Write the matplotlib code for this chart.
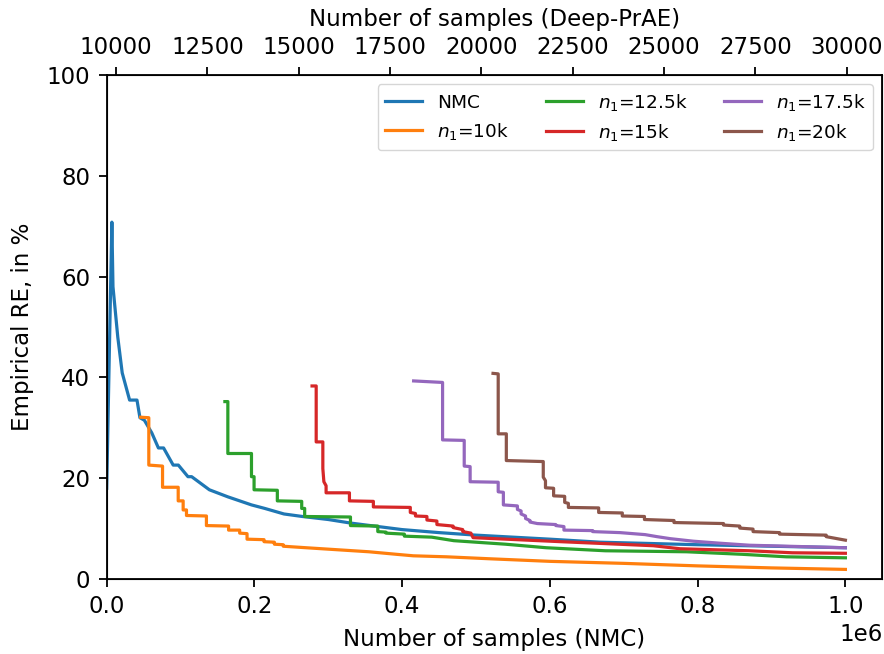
import matplotlib
matplotlib.use("Agg")
import matplotlib.pyplot as plt
import numpy as np

# ---- data (x in millions of NMC samples, y in %) ----
nmc_x = [0.0, 0.007, 0.0085, 0.015, 0.021, 0.031, 0.041, 0.045, 0.051, 0.061, 0.070,
         0.077, 0.090, 0.097, 0.110, 0.115, 0.139, 0.164, 0.196, 0.214, 0.240,
         0.265, 0.30, 0.33, 0.40, 0.45, 0.50, 0.60, 0.668, 0.80, 0.90, 1.0]
nmc_y = [18.0, 70.8, 58.0, 48.0, 40.9, 35.5, 35.5, 32.0, 31.5, 29.0, 26.0,
         26.0, 22.6, 22.6, 20.3, 20.3, 17.7, 16.3, 14.7, 14.0, 12.9,
         12.4, 11.8, 11.1, 9.8, 9.2, 8.7, 7.9, 7.3, 6.8, 6.5, 6.2]

n10_x = [0.046, 0.057, 0.057, 0.0756, 0.0756, 0.0968, 0.0968, 0.1035, 0.1035, 0.108,
         0.108, 0.135, 0.135, 0.165, 0.165, 0.180, 0.180, 0.190, 0.190, 0.213,
         0.213, 0.227, 0.227, 0.239, 0.239, 0.270, 0.355, 0.392, 0.415, 0.46,
         0.52, 0.60, 0.70, 0.80, 0.90, 1.0]
n10_y = [32.1, 32.0, 22.6, 22.4, 18.2, 18.2, 15.5, 15.5, 13.7, 13.7,
         12.6, 12.5, 10.6, 10.5, 9.7, 9.7, 9.1, 9.0, 7.9, 7.8,
         7.4, 7.3, 6.9, 6.8, 6.5, 6.2, 5.4, 4.9, 4.6, 4.4,
         4.0, 3.5, 3.1, 2.6, 2.2, 1.9]

n125_x = [0.160, 0.164, 0.164, 0.196, 0.196, 0.1995, 0.1995, 0.231, 0.231, 0.264,
          0.264, 0.268, 0.268, 0.330, 0.330, 0.367, 0.367, 0.378, 0.378, 0.403,
          0.403, 0.440, 0.470, 0.540, 0.595, 0.675, 0.785, 0.860, 0.920, 1.0]
n125_y = [35.2, 35.2, 24.9, 24.9, 20.3, 20.3, 17.7, 17.6, 15.5, 15.4,
          14.0, 14.0, 12.4, 12.3, 10.6, 10.5, 9.4, 9.3, 9.1, 8.9,
          8.5, 8.3, 7.6, 6.9, 6.2, 5.6, 5.4, 4.9, 4.4, 4.2]

n15_x = [0.278, 0.2836, 0.2836, 0.2926, 0.2926, 0.294, 0.297, 0.297, 0.3286, 0.3286,
         0.361, 0.361, 0.411, 0.411, 0.418, 0.418, 0.4335, 0.4335, 0.447, 0.447,
         0.469, 0.469, 0.482, 0.482, 0.493, 0.496, 0.615, 0.740, 0.776, 0.870,
         0.928, 1.0]
n15_y = [38.3, 38.3, 27.2, 27.2, 21.9, 19.3, 18.5, 17.1, 17.1, 15.5,
         15.4, 14.3, 14.2, 13.2, 13.0, 12.5, 12.4, 11.7, 11.5, 10.8,
         10.5, 10.2, 9.8, 9.4, 9.1, 8.2, 7.4, 6.6, 6.0, 5.6,
         5.2, 5.1]

n175_x = [0.4155, 0.4547, 0.4547, 0.484, 0.484, 0.492, 0.492, 0.530, 0.530, 0.537,
          0.537, 0.556, 0.556, 0.561, 0.561, 0.567, 0.567, 0.573, 0.573, 0.583,
          0.608, 0.608, 0.619, 0.619, 0.658, 0.658, 0.695, 0.729, 0.745, 0.763,
          0.794, 0.830, 0.870, 1.0]
n175_y = [39.3, 39.0, 27.6, 27.5, 22.4, 22.3, 19.3, 19.2, 17.3, 17.2,
          14.7, 14.5, 13.8, 13.5, 12.9, 12.5, 12.0, 11.6, 11.3, 11.0,
          10.8, 10.6, 10.4, 9.7, 9.6, 9.4, 9.2, 8.8, 8.4, 8.0,
          7.5, 7.1, 6.7, 6.2]

n20_x = [0.523, 0.530, 0.530, 0.541, 0.541, 0.591, 0.591, 0.594, 0.594, 0.605,
         0.605, 0.620, 0.620, 0.625, 0.625, 0.666, 0.666, 0.698, 0.698, 0.728,
         0.728, 0.768, 0.768, 0.835, 0.835, 0.857, 0.857, 0.875, 0.875, 0.911,
         0.911, 0.974, 0.974, 1.0]
n20_y = [40.8, 40.7, 28.8, 28.8, 23.5, 23.3, 20.2, 19.5, 18.1, 18.0,
         16.5, 16.4, 15.2, 15.0, 14.2, 14.1, 13.2, 13.1, 12.5, 12.4,
         11.8, 11.6, 11.2, 11.0, 10.7, 10.5, 10.1, 9.9, 9.4, 9.2,
         8.9, 8.7, 8.4, 7.7]

top_ticks = [10000, 12500, 15000, 17500, 20000, 22500, 25000, 27500, 30000]

plt.rcParams['font.family'] = ['DejaVu Sans']
plt.rcParams['font.size'] = 16.5

fig = plt.figure(figsize=(8.84, 6.54), dpi=100)
ax = fig.add_axes([0.1207, 0.1147, 0.8774, 0.7706])

lw = 2.3
scale = 1e6
series = [
    (nmc_x, nmc_y, 'C0', 'NMC'),
    (n10_x, n10_y, 'C1', r'$n_1$=10k'),
    (n125_x, n125_y, 'C2', r'$n_1$=12.5k'),
    (n15_x, n15_y, 'C3', r'$n_1$=15k'),
    (n175_x, n175_y, 'C4', r'$n_1$=17.5k'),
    (n20_x, n20_y, 'C5', r'$n_1$=20k'),
]
for xs, ys, c, lab in series:
    ax.plot(np.array(xs) * scale, ys, color=c, lw=lw, label=lab)

ax.set_xlim(0, 1.05e6)
ax.set_ylim(0, 100)
ax.set_xlabel('Number of samples (NMC)', labelpad=7)
ax.set_ylabel('Empirical RE, in %', labelpad=9)
for s in ax.spines.values():
    s.set_linewidth(1.3)
ax.tick_params(width=1.3, length=5.8, pad=6)

ax.legend(loc='upper right', ncol=3, fontsize=13.3)

ax2 = ax.twiny()
ax2.set_xlim(9745, 30975)
ax2.set_xticks(top_ticks)
ax2.set_xlabel('Number of samples (Deep-PrAE)', labelpad=7)
ax2.tick_params(width=1.3, length=5.8, pad=6)

fig.savefig('out.png', dpi=100)
